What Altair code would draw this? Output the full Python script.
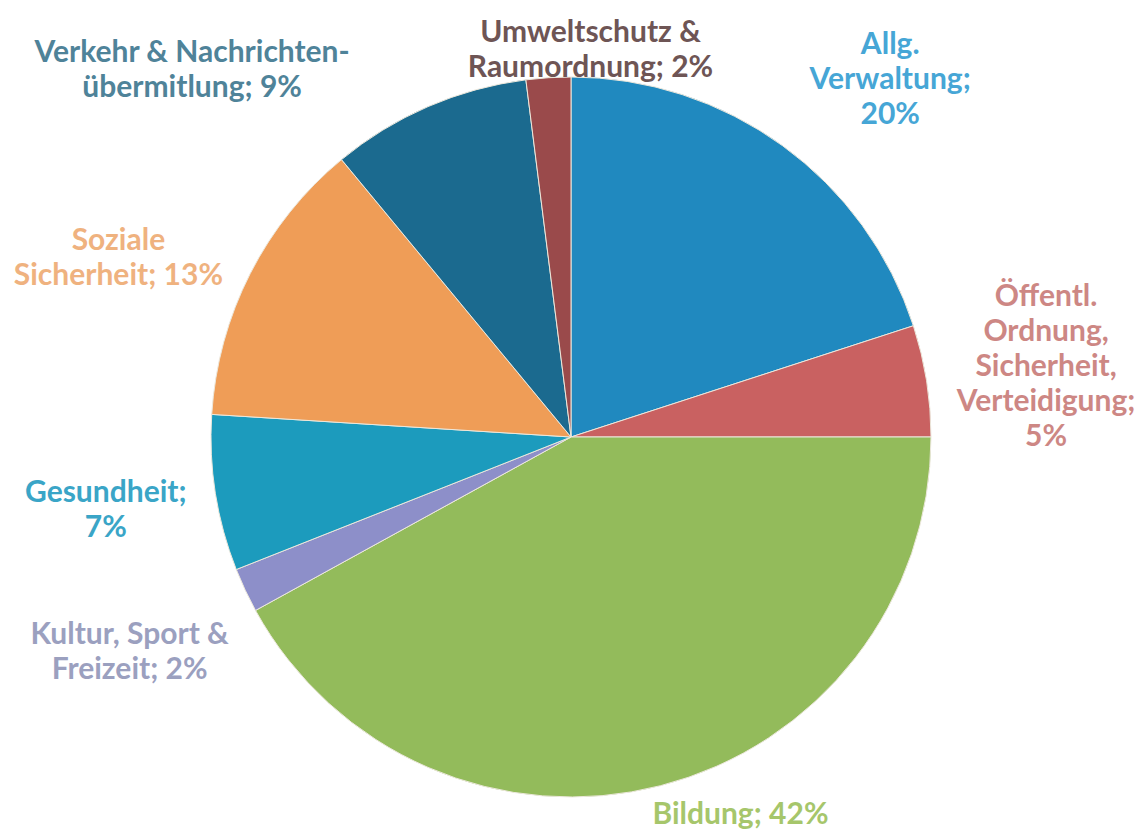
import altair as alt
import pandas as pd

categories = ["Allg. Verwaltung", "Öffentl. Ordnung", "Bildung", "Kultur", "Gesundheit",
              "Soziale Sicherheit", "Verkehr", "Umweltschutz"]
values = [20, 5, 42, 2, 7, 13, 9, 2]
labels = [
    "Allg.\nVerwaltung;\n20%",
    "Öffentl.\nOrdnung,\nSicherheit,\nVerteidigung;\n5%",
    "Bildung; 42%",
    "Kultur, Sport &\nFreizeit; 2%",
    "Gesundheit;\n7%",
    "Soziale\nSicherheit; 13%",
    "Verkehr & Nachrichten-\nübermitlung; 9%",
    "Umweltschutz &\nRaumordnung; 2%",
]
slice_colors = ["#2089bf", "#c96161", "#93bb5b", "#8d8fc9", "#1c9bbd", "#ef9d57", "#1b6a8f", "#9a4a4b"]
label_colors = ["#46a6d6", "#cd8784", "#a6c66b", "#9ba0bf", "#3aa5c7", "#efb27f", "#4f8399", "#6e5555"]

df = pd.DataFrame({"cat": categories, "value": values, "label": labels, "idx": range(len(values))})
df["end"] = df["value"].cumsum()
df["start"] = df["end"] - df["value"]
df["mid"] = (df["start"] + df["end"]) / 2

CX, CY = 563, 429
theta_scale = alt.Scale(domain=[0, 100], range=[0, 6.283185307179586])

arcs = alt.Chart(df).mark_arc(radius=360, stroke="#ece8dc", strokeWidth=1).encode(
    theta=alt.Theta("start:Q", scale=theta_scale, stack=False),
    theta2="end:Q",
    color=alt.Color("cat:N", scale=alt.Scale(domain=categories, range=slice_colors), legend=None),
    x=alt.value(CX),
    y=alt.value(CY),
)

# label placement style: (radius, dx, dy)
label_style = [
    (441, 60, -35),
    (480, 1, -65),
    (400, 70, -9),
    (490, 2, -11),
    (470, -1, -18),
    (490, -16, 26),
    (400, -220, -17),
    (390, 44, -15),
]

layers = [arcs]
for i, cat in enumerate(categories):
    r, dx, dy = label_style[i]
    t = alt.Chart(df).transform_filter(alt.datum.cat == cat).mark_text(
        radius=r, dx=dx, dy=dy, font="Lato", fontWeight="bold", fontSize=30,
        lineHeight=35, lineBreak="\n", align="center", baseline="middle",
        color=label_colors[i],
    ).encode(
        theta=alt.Theta("mid:Q", scale=theta_scale, stack=False),
        text="label:N",
        x=alt.value(CX),
        y=alt.value(CY),
    )
    layers.append(t)

chart = alt.layer(*layers).properties(
    width=1132, height=822, padding=0, autosize=alt.AutoSizeParams(type="none")
).configure(background="white").configure_view(stroke=None)

chart.save("out.html", embed_options={"renderer": "svg", "actions": False})
